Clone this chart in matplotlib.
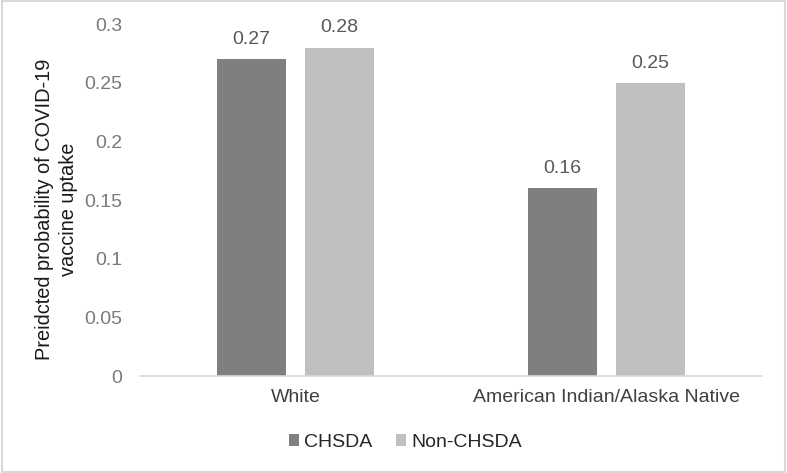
import matplotlib
matplotlib.use("Agg")
import matplotlib.pyplot as plt
import numpy as np
from matplotlib.patches import Rectangle

categories = ["White", "American Indian/Alaska Native"]
series_names = ["CHSDA", "Non-CHSDA"]
chsda = [0.27, 0.16]
non_chsda = [0.28, 0.25]
yticks = [0, 0.05, 0.1, 0.15, 0.2, 0.25, 0.3]
ytick_labels = ["0", "0.05", "0.1", "0.15", "0.2", "0.25", "0.3"]

plt.rcParams['font.family'] = ['Liberation Sans', 'DejaVu Sans']

fig = plt.figure(figsize=(7.87, 4.73), dpi=100)
ax = fig.add_axes([0.178, 0.205, 0.79, 0.744])

x = np.arange(len(categories))
w = 0.222
off = 0.1415
c1, c2 = "#7f7f7f", "#bfbfbf"
b1 = ax.bar(x - off, chsda, w, color=c1, label=series_names[0])
b2 = ax.bar(x + off, non_chsda, w, color=c2, label=series_names[1])

for bars, vals in ((b1, chsda), (b2, non_chsda)):
    for b, v in zip(bars, vals):
        ax.annotate(f"{v:.2f}", (b.get_x() + b.get_width() / 2, v),
                    xytext=(0, 8), textcoords="offset points",
                    ha="center", va="bottom", fontsize=14, color="#595959")

ax.set_xlim(-0.5, 1.5)
ax.set_ylim(0, 0.3)
ax.set_yticks(yticks)
ax.set_yticklabels(ytick_labels)
ax.set_xticks(x)
ax.set_xticklabels(categories)
ax.tick_params(axis="y", length=0, pad=13, labelsize=14, labelcolor="#7a7a7a")
ax.tick_params(axis="x", length=0, pad=9, labelsize=14, labelcolor="#404040")
for s in ["top", "right", "left"]:
    ax.spines[s].set_visible(False)
ax.spines["bottom"].set_color("#d9d9d9")
ax.spines["bottom"].set_linewidth(1.2)

ax.set_ylabel("Preidcted probability of COVID-19\nvaccine uptake", fontsize=14.4,
              color="#1a1a1a", linespacing=1.3)
ax.yaxis.set_label_coords(-0.1, 0.475)

leg = fig.legend(handles=[b1, b2], labels=series_names, loc="center",
                 bbox_to_anchor=(0.515, 0.064), ncol=2, frameon=False,
                 fontsize=14, handlelength=0.55, handleheight=0.55,
                 handletextpad=0.25, columnspacing=1.2, labelcolor="#262626")

fig.patches.append(Rectangle((0.002, 0.003), 0.996, 0.994, transform=fig.transFigure,
                             fill=False, edgecolor="#d9d9d9", linewidth=1.5))

fig.savefig("out.png", dpi=100)
